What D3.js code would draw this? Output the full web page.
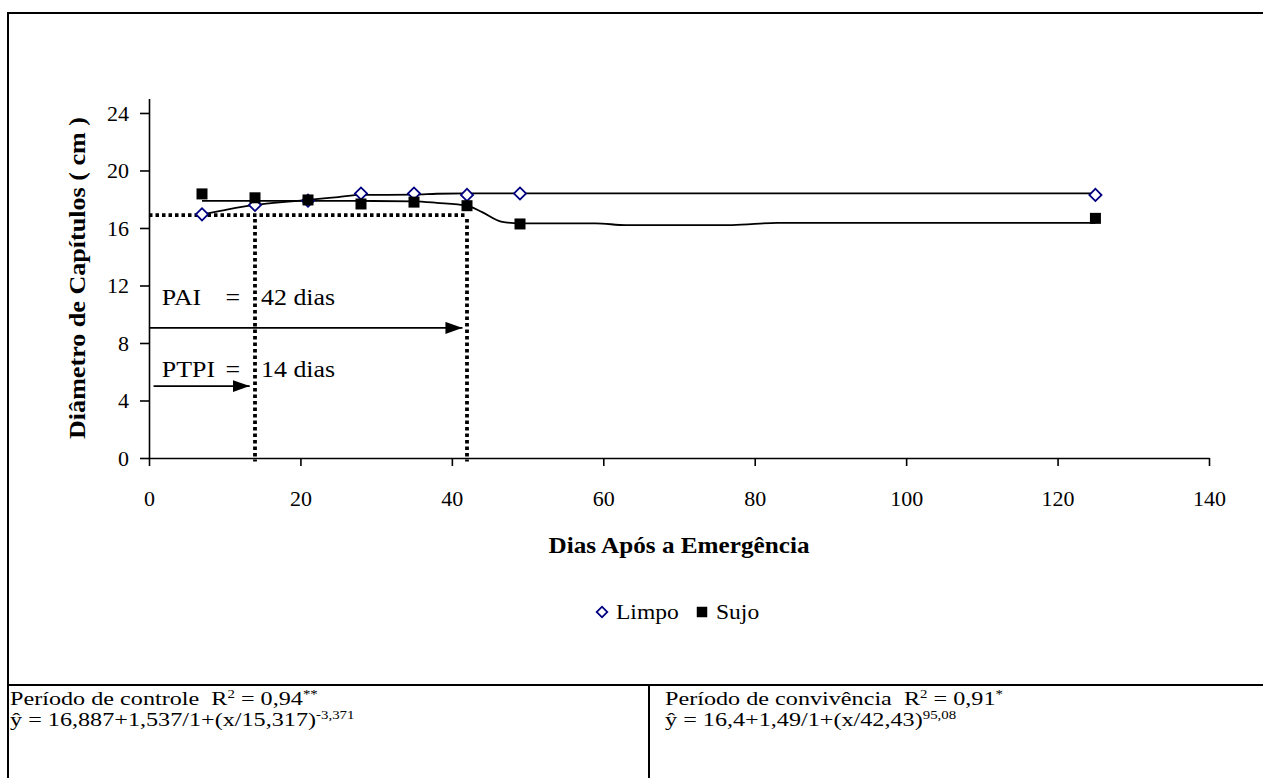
<!DOCTYPE html>
<html>
<head>
<meta charset="utf-8">
<style>
  body { margin: 0; background: #fff; }
  svg text { font-family: "Liberation Serif", "Times New Roman", serif; white-space: pre; }
</style>
</head>
<body>
<svg width="1263" height="778"></svg>
<script src="https://d3js.org/d3.v7.min.js"></script>
<script>

// dados
var dias  = [7, 14, 21, 28, 35, 42, 49, 125];
var limpo = [16.95, 17.6, 17.9, 18.4, 18.4, 18.3, 18.4, 18.3];
var sujo  = [18.37, 18.1, 17.95, 17.67, 17.8, 17.55, 16.28, 16.67];

// curvas ajustadas
var limpoFitX = [7, 10, 14, 18, 21, 25, 28, 35, 38, 42, 49, 125];
var limpoFitY = [16.95, 17.25, 17.6, 17.82, 17.95, 18.15, 18.3, 18.32, 18.38, 18.41, 18.41, 18.41];
var sujoFitX  = [7, 14, 21, 28, 35, 38, 42, 44, 46.5, 49, 59, 63, 77, 83, 125];
var sujoFitY  = [17.88, 17.88, 17.88, 17.88, 17.85, 17.75, 17.55, 17.1, 16.45, 16.32, 16.32, 16.2, 16.2, 16.36, 16.36];

var xTicks = [0, 20, 40, 60, 80, 100, 120, 140];
var yTicks = [0, 4, 8, 12, 16, 20, 24];

// periodos criticos
var nivelCorte = 16.9;
var periodos = [14, 42];          // PTPI, PAI
var setaY = [5.0, 9.05];          // altura das setas
var setaInicio = [0.6, 0];
var setaFim = [13.3, 41.4];

var svg = d3.select("svg");

var x = d3.scaleLinear().domain([0, 140]).range([149, 1209]);
var y = d3.scaleLinear().domain([0, 25]).range([458, 98.6]);

// moldura
svg.append("line").attr("x1", 8).attr("x2", 1263).attr("y1", 13).attr("y2", 13)
    .attr("stroke", "#000").attr("stroke-width", 2);
svg.append("line").attr("x1", 8).attr("x2", 8).attr("y1", 12).attr("y2", 778)
    .attr("stroke", "#000").attr("stroke-width", 2);
svg.append("line").attr("x1", 8).attr("x2", 1263).attr("y1", 685).attr("y2", 685)
    .attr("stroke", "#000").attr("stroke-width", 2.2);
svg.append("line").attr("x1", 649).attr("x2", 649).attr("y1", 685).attr("y2", 778)
    .attr("stroke", "#000").attr("stroke-width", 2);

// texto esticado na horizontal (fonte da figura e mais larga)
function texto(parent, px, py, sx, rot) {
  return parent.append("g")
      .attr("transform", "translate(" + px + "," + py + ") rotate(" + (rot || 0) + ") scale(" + sx + ",1)")
    .append("text");
}

// eixos
var gy = svg.append("g")
    .attr("transform", "translate(" + x(0) + ",0)")
    .call(d3.axisLeft(y).tickValues(yTicks).tickSize(9).tickSizeOuter(0).tickPadding(11));
var gx = svg.append("g")
    .attr("transform", "translate(0," + y(0) + ")")
    .call(d3.axisBottom(x).tickValues(xTicks).tickSize(8).tickSizeOuter(0).tickPadding(24));

[gx, gy].forEach(function(g) {
  g.selectAll("path, line").attr("stroke", "#000").attr("stroke-width", 1.6);
  g.selectAll("text").attr("fill", "#000")
      .style("font-family", "'Liberation Serif', serif").style("font-size", "22px");
});
gy.selectAll("text").attr("dy", "0.34em");

// titulos dos eixos
texto(svg, 85, 278, 1.16, -90)
    .attr("text-anchor", "middle").attr("font-weight", "bold").attr("font-size", 22.5)
    .text("Diâmetro de Capítulos ( cm )");
texto(svg, 679, 553, 1.12, 0)
    .attr("text-anchor", "middle").attr("font-weight", "bold").attr("font-size", 22.5)
    .text("Dias Após a Emergência");

// linhas pontilhadas
var pont = { stroke: "#000", "stroke-width": 3.8, "stroke-dasharray": "3.5,3" };
function aplica(sel, attrs) { Object.keys(attrs).forEach(function(k) { sel.attr(k, attrs[k]); }); return sel; }

aplica(svg.append("line")
    .attr("x1", x(0)).attr("x2", x(periodos[1]))
    .attr("y1", y(nivelCorte)).attr("y2", y(nivelCorte)), pont);
periodos.forEach(function(p) {
  aplica(svg.append("line")
      .attr("x1", x(p)).attr("x2", x(p))
      .attr("y1", y(nivelCorte) + 4).attr("y2", y(-0.25)), pont);
});

// setas
svg.append("defs").append("marker")
    .attr("id", "ponta").attr("viewBox", "0 0 17 12")
    .attr("refX", 17).attr("refY", 6)
    .attr("markerWidth", 17).attr("markerHeight", 12)
    .attr("markerUnits", "userSpaceOnUse").attr("orient", "auto")
  .append("path").attr("d", "M0,0L17,6L0,12Z").attr("fill", "#000");

setaY.forEach(function(v, i) {
  svg.append("line")
      .attr("x1", x(setaInicio[i])).attr("x2", x(setaFim[i]))
      .attr("y1", y(v)).attr("y2", y(v))
      .attr("stroke", "#000").attr("stroke-width", 1.8)
      .attr("marker-end", "url(#ponta)");
});

// rotulos PAI / PTPI
var rotulos = [
  { t: "PAI", xv: 1.7, yv: 10.64 }, { t: "=", xv: 10.1, yv: 10.64 }, { t: "42 dias", xv: 14.8, yv: 10.64 },
  { t: "PTPI", xv: 1.7, yv: 5.63 }, { t: "=", xv: 10.1, yv: 5.63 }, { t: "14 dias", xv: 14.8, yv: 5.63 }
];
rotulos.forEach(function(r) {
  texto(svg, x(r.xv), y(r.yv), 1.15, 0).attr("font-size", 22.5).text(r.t);
});

// curvas ajustadas
var linha = d3.line()
    .x(function(d) { return x(d[0]); })
    .y(function(d) { return y(d[1]); })
    .curve(d3.curveMonotoneX);

svg.append("path").datum(d3.zip(sujoFitX, sujoFitY))
    .attr("d", linha).attr("fill", "none").attr("stroke", "#000").attr("stroke-width", 1.8);
svg.append("path").datum(d3.zip(limpoFitX, limpoFitY))
    .attr("d", linha).attr("fill", "none").attr("stroke", "#000").attr("stroke-width", 1.8);

// pontos
var losango = d3.symbol(d3.symbolSquare, 74);
var quadrado = d3.symbol(d3.symbolSquare, 121);

svg.append("g").selectAll("path").data(d3.zip(dias, limpo)).join("path")
    .attr("d", losango)
    .attr("transform", function(d) { return "translate(" + x(d[0]) + "," + y(d[1]) + ") rotate(45)"; })
    .attr("fill", "#fff").attr("stroke", "#000080").attr("stroke-width", 1.8);

svg.append("g").selectAll("path").data(d3.zip(dias, sujo)).join("path")
    .attr("d", quadrado)
    .attr("transform", function(d) { return "translate(" + x(d[0]) + "," + y(d[1]) + ")"; })
    .attr("fill", "#000");

// legenda
var leg = svg.append("g");
leg.append("path").attr("d", d3.symbol(d3.symbolSquare, 56))
    .attr("transform", "translate(602,612) rotate(45)")
    .attr("fill", "#fff").attr("stroke", "#000080").attr("stroke-width", 1.8);
texto(leg, 616, 619, 1.07, 0).attr("font-size", 22).text("Limpo");
leg.append("path").attr("d", d3.symbol(d3.symbolSquare, 110))
    .attr("transform", "translate(702,612)").attr("fill", "#000");
texto(leg, 716, 619, 1.07, 0).attr("font-size", 22).text("Sujo");

// equacoes (p[1] = 1 -> sobrescrito)
function equacao(px, py, partes) {
  var t = texto(svg, px, py, 1.24, 0).attr("font-size", 19.5);
  var nivel = 0;
  partes.forEach(function(p) {
    var alvo = p[1] ? -7 : 0;
    t.append("tspan")
        .attr("font-size", p[1] ? 12 : 19.5)
        .attr("dy", alvo - nivel)
        .text(p[0]);
    nivel = alvo;
  });
}

equacao(10, 705, [["Período de controle  R", 0], ["2", 1], [" = 0,94", 0], ["**", 1]]);
equacao(10, 726, [["ŷ = 16,887+1,537/1+(x/15,317)", 0], ["-3,371", 1]]);
equacao(665, 705, [["Período de convivência  R", 0], ["2", 1], [" = 0,91", 0], ["*", 1]]);
equacao(665, 726, [["ŷ = 16,4+1,49/1+(x/42,43)", 0], ["95,08", 1]]);

</script>
</body>
</html>
